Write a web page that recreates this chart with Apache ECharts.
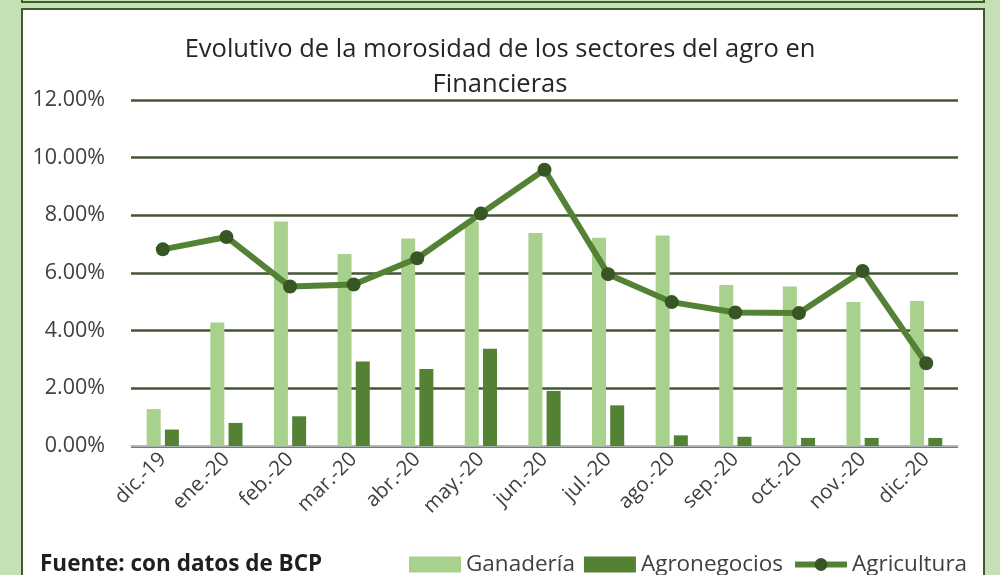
<!DOCTYPE html>
<html lang="es">
<head>
    <meta charset="UTF-8">
    <title>Evolutivo de la morosidad</title>
    <style>
        html, body { margin: 0; padding: 0; width: 100%; height: 100%; background: #c5e0b4; }
        #main { width: 1000px; height: 575px; }
    </style>
</head>
<body>
    <div id="main"></div>
    <script src="https://cdn.jsdelivr.net/npm/echarts@6/dist/echarts.min.js"></script>
    <script>
        var meses = ['dic.-19', 'ene.-20', 'feb.-20', 'mar.-20', 'abr.-20', 'may.-20', 'jun.-20',
                     'jul.-20', 'ago.-20', 'sep.-20', 'oct.-20', 'nov.-20', 'dic.-20'];
        var ganaderia = [1.28, 4.28, 7.79, 6.66, 7.20, 7.79, 7.39, 7.22, 7.30, 5.58, 5.53, 4.99, 5.03];
        var agronegocios = [0.57, 0.80, 1.03, 2.93, 2.67, 3.37, 1.91, 1.41, 0.37, 0.32, 0.28, 0.28, 0.28];
        var agricultura = [6.82, 7.25, 5.53, 5.60, 6.51, 8.06, 9.58, 5.96, 4.99, 4.63, 4.61, 6.07, 2.87];

        var fuente = '"Open Sans", Lato, sans-serif';
        var myChart = echarts.init(document.getElementById('main'));
        var option = {
            backgroundColor: '#c5e0b4',
            textStyle: { fontFamily: fuente },
            graphic: [
                { type: 'rect', z: -10, shape: { x: 22, y: -20, width: 962, height: 22 },
                  style: { fill: '#c5e0b4', stroke: '#3d5c2c', lineWidth: 2 } },
                { type: 'rect', z: -10, shape: { x: 22, y: 9, width: 962, height: 600 },
                  style: { fill: '#ffffff', stroke: '#3d5c2c', lineWidth: 2 } },
                { type: 'text', left: 40, top: 553,
                  style: { text: 'Fuente: con datos de BCP', fill: '#1f1f1f',
                           font: 'bold 22.5px ' + fuente } }
            ],
            title: {
                text: 'Evolutivo de la morosidad de los sectores del agro en\nFinancieras',
                left: 'center',
                top: 27,
                textStyle: { fontSize: 25.5, fontWeight: 'normal', color: '#262626', lineHeight: 35 }
            },
            legend: {
                left: 404,
                top: 548,
                itemWidth: 52,
                itemHeight: 16,
                itemGap: 9,
                textStyle: { fontSize: 22.5, color: '#404040' },
                lineStyle: { width: 6 },
                data: [
                    { name: 'Ganadería', icon: 'rect' },
                    { name: 'Agronegocios', icon: 'rect' },
                    { name: 'Agricultura' }
                ]
            },
            grid: { left: 131, right: 42, top: 100, bottom: 129 },
            xAxis: {
                type: 'category',
                data: meses,
                axisLine: { lineStyle: { color: '#c8cfd8', width: 1.5 } },
                axisTick: { show: false },
                axisLabel: { rotate: 45, fontSize: 20.5, color: '#404040', margin: 10 }
            },
            yAxis: {
                type: 'value',
                min: 0,
                max: 12,
                interval: 2,
                axisLine: { show: false },
                axisTick: { show: false },
                axisLabel: {
                    fontSize: 21.5, color: '#404040', margin: 26,
                    formatter: function (v) { return v.toFixed(2) + '%'; }
                },
                splitLine: { lineStyle: { color: '#445533', width: 2.5 } }
            },
            series: [
                {
                    name: 'Ganadería', type: 'bar', data: ganaderia,
                    barWidth: 14, barGap: '30%',
                    itemStyle: { color: '#a9d18e' }
                },
                {
                    name: 'Agronegocios', type: 'bar', data: agronegocios,
                    barWidth: 14,
                    itemStyle: { color: '#548235' }
                },
                {
                    name: 'Agricultura', type: 'line', data: agricultura,
                    symbol: 'circle', symbolSize: 14,
                    lineStyle: { color: '#548235', width: 6 },
                    itemStyle: { color: '#375623' }
                }
            ]
        };
        myChart.setOption(option);
    </script>
</body>
</html>
